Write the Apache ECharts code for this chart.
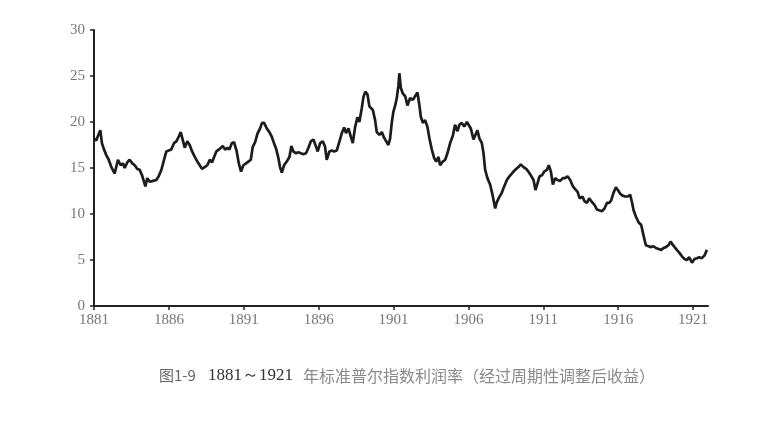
<!DOCTYPE html>
<html lang="zh">
<head>
    <meta charset="UTF-8">
    <title>1881～1921年标准普尔指数利润率</title>
    <style>
        * { margin: 0; padding: 0; box-sizing: border-box; }
        body { background: #fff; }
        #chart { width: 782px; height: 438px; }
    </style>
</head>
<body>
    <div id="chart"></div>

    <script src="https://cdn.jsdelivr.net/npm/echarts@6/dist/echarts.min.js"></script>
    <script>
        // years (decimal), with the matching ratio values
        const years = [
            1881.00, 1881.15, 1881.27, 1881.42, 1881.53, 1881.67, 1881.82, 1881.98, 1882.16, 1882.38,
            1882.60, 1882.78, 1882.94, 1883.05, 1883.22, 1883.38, 1883.56, 1883.72, 1883.89, 1884.05,
            1884.21, 1884.34, 1884.43, 1884.56, 1884.72, 1884.94, 1885.16, 1885.32, 1885.50, 1885.68,
            1885.83, 1885.99, 1886.16, 1886.34, 1886.50, 1886.66, 1886.79, 1886.95, 1887.06, 1887.23,
            1887.39, 1887.55, 1887.73, 1887.90, 1888.06, 1888.21, 1888.39, 1888.57, 1888.73, 1888.88,
            1889.02, 1889.17, 1889.24, 1889.42, 1889.60, 1889.75, 1889.90, 1890.04, 1890.20, 1890.35,
            1890.53, 1890.67, 1890.82, 1890.97, 1891.15, 1891.31, 1891.47, 1891.60, 1891.76, 1891.91,
            1892.09, 1892.22, 1892.36, 1892.54, 1892.71, 1892.87, 1893.02, 1893.16, 1893.31, 1893.42,
            1893.54, 1893.69, 1893.87, 1894.05, 1894.18, 1894.31, 1894.49, 1894.65, 1894.81, 1894.98,
            1895.16, 1895.32, 1895.48, 1895.65, 1895.83, 1895.94, 1896.10, 1896.28, 1896.43, 1896.54,
            1896.72, 1896.88, 1897.03, 1897.21, 1897.39, 1897.55, 1897.70, 1897.83, 1897.99, 1898.15,
            1898.28, 1898.44, 1898.59, 1898.72, 1898.88, 1898.99, 1899.12, 1899.26, 1899.39, 1899.48,
            1899.62, 1899.77, 1899.88, 1900.06, 1900.22, 1900.37, 1900.51, 1900.66, 1900.77, 1900.89,
            1900.99, 1901.11, 1901.22, 1901.33, 1901.39, 1901.49, 1901.62, 1901.78, 1901.93, 1902.11,
            1902.29, 1902.44, 1902.60, 1902.73, 1902.82, 1902.96, 1903.11, 1903.26, 1903.40, 1903.56,
            1903.71, 1903.85, 1904.00, 1904.11, 1904.29, 1904.45, 1904.60, 1904.78, 1904.96, 1905.11,
            1905.27, 1905.40, 1905.56, 1905.72, 1905.90, 1906.00, 1906.16, 1906.34, 1906.47, 1906.60,
            1906.74, 1906.90, 1907.01, 1907.12, 1907.27, 1907.45, 1907.61, 1907.79, 1907.90, 1908.05,
            1908.23, 1908.39, 1908.57, 1908.74, 1908.90, 1909.06, 1909.19, 1909.34, 1909.50, 1909.68,
            1909.86, 1910.01, 1910.17, 1910.35, 1910.48, 1910.61, 1910.75, 1910.91, 1911.06, 1911.24,
            1911.37, 1911.51, 1911.64, 1911.80, 1911.95, 1912.13, 1912.31, 1912.46, 1912.62, 1912.80,
            1912.98, 1913.13, 1913.29, 1913.43, 1913.62, 1913.75, 1913.91, 1914.07, 1914.25, 1914.42,
            1914.58, 1914.73, 1914.91, 1915.09, 1915.25, 1915.40, 1915.54, 1915.69, 1915.85, 1915.98,
            1916.14, 1916.29, 1916.47, 1916.65, 1916.80, 1916.92, 1917.03, 1917.19, 1917.36, 1917.54,
            1917.69, 1917.85, 1918.03, 1918.21, 1918.36, 1918.52, 1918.70, 1918.88, 1919.03, 1919.19,
            1919.36, 1919.50, 1919.63, 1919.77, 1919.92, 1920.08, 1920.26, 1920.43, 1920.59, 1920.75,
            1920.93, 1921.10, 1921.26, 1921.41, 1921.59, 1921.77, 1921.93
        ];

        const ratios = [
            18.2, 18.0, 18.5, 19.1, 17.7, 17.0, 16.4, 15.9, 15.1, 14.4,
            15.9, 15.3, 15.5, 15.0, 15.6, 15.9, 15.5, 15.3, 14.9, 14.8,
            14.2, 13.5, 13.0, 13.9, 13.5, 13.6, 13.7, 14.1, 14.8, 15.9,
            16.8, 16.9, 17.0, 17.7, 17.9, 18.4, 18.9, 17.9, 17.2, 17.9,
            17.5, 16.8, 16.2, 15.7, 15.3, 14.9, 15.1, 15.3, 15.9, 15.6,
            16.2, 16.8, 16.9, 17.1, 17.4, 17.0, 17.2, 17.0, 17.7, 17.8,
            16.8, 15.5, 14.6, 15.3, 15.5, 15.7, 15.9, 17.3, 17.8, 18.7,
            19.3, 19.9, 19.9, 19.3, 18.9, 18.4, 17.7, 17.1, 16.1, 15.1,
            14.5, 15.3, 15.7, 16.2, 17.4, 16.8, 16.6, 16.7, 16.6, 16.5,
            16.6, 17.2, 17.9, 18.1, 17.3, 16.8, 17.7, 17.9, 17.3, 15.9,
            16.8, 16.9, 16.8, 16.9, 17.9, 18.8, 19.4, 18.8, 19.3, 18.4,
            17.7, 19.5, 20.5, 20.0, 21.5, 22.7, 23.3, 23.0, 21.7, 21.9,
            21.3, 20.2, 18.9, 18.6, 18.9, 18.3, 17.9, 17.5, 18.2, 20.0,
            21.1, 21.8, 22.6, 24.0, 25.3, 23.7, 23.1, 22.8, 21.8, 22.6,
            22.4, 22.8, 23.2, 21.8, 20.6, 19.9, 20.2, 19.5, 18.2, 17.0,
            16.1, 15.7, 16.2, 15.3, 15.7, 15.9, 16.6, 17.7, 18.5, 19.7,
            19.0, 19.7, 19.9, 19.5, 20.0, 20.1, 19.3, 18.1, 18.2, 19.1,
            18.2, 17.7, 16.6, 14.8, 13.9, 13.2, 12.1, 10.6, 11.3, 11.8,
            12.3, 13.0, 13.7, 14.1, 14.4, 14.7, 14.6, 15.1, 15.4, 15.1,
            14.9, 14.6, 14.2, 13.7, 12.6, 13.3, 14.1, 14.2, 14.6, 14.8,
            15.3, 14.6, 13.2, 13.9, 13.7, 13.6, 13.9, 13.9, 14.1, 13.7,
            13.0, 12.7, 12.4, 11.7, 11.9, 11.4, 11.2, 11.7, 11.3, 11.0,
            10.5, 10.4, 10.3, 10.6, 11.2, 11.2, 11.5, 12.3, 12.9, 12.6,
            12.2, 12.0, 11.9, 11.9, 12.1, 11.3, 10.4, 9.7, 9.1, 8.8,
            7.7, 6.6, 6.5, 6.4, 6.5, 6.3, 6.2, 6.1, 6.3, 6.4,
            6.6, 7.0, 6.7, 6.4, 6.1, 5.8, 5.4, 5.1, 5.0, 5.3,
            4.7, 5.1, 5.2, 5.3, 5.2, 5.5, 6.1
        ];

        const xTickYears = [1881, 1886, 1891, 1896, 1901, 1906, 1911, 1916, 1921];
        const yTicks = [0, 5, 10, 15, 20, 25, 30];

        const caption = '图1-9';
        const captionYears = '1881～1921';
        const captionText = '年标准普尔指数利润率（经过周期性调整后收益）';

        const chart = echarts.init(document.getElementById('chart'));

        const labelStyle = {
            color: '#777',
            fontFamily: '"Liberation Serif", "DejaVu Serif", serif',
            fontSize: 15
        };

        chart.setOption({
            animation: false,
            grid: { left: 94, right: 74, top: 30, bottom: 132 },
            xAxis: {
                type: 'value',
                min: 1881,
                max: 1922,
                splitLine: { show: false },
                axisLine: { show: true, lineStyle: { color: '#222', width: 2 } },
                axisTick: {
                    show: true,
                    length: 4,
                    customValues: xTickYears,
                    lineStyle: { color: '#222', width: 1.5 }
                },
                axisLabel: Object.assign({
                    margin: 7,
                    customValues: xTickYears,
                    formatter: v => String(v)
                }, labelStyle)
            },
            yAxis: {
                type: 'value',
                min: yTicks[0],
                max: yTicks[yTicks.length - 1],
                interval: 5,
                splitLine: { show: false },
                axisLine: { show: true, lineStyle: { color: '#222', width: 2 } },
                axisTick: { show: true, length: 4, lineStyle: { color: '#222', width: 1.5 } },
                axisLabel: Object.assign({ margin: 9 }, labelStyle)
            },
            series: [{
                type: 'line',
                data: years.map((y, i) => [y, ratios[i]]),
                showSymbol: false,
                lineStyle: { color: '#1c1c1c', width: 2.7 },
                z: 3
            }],
            graphic: [{
                type: 'text',
                left: 159,
                top: 367,
                style: {
                    text: '{a|' + caption + '}{b|' + captionYears + '}{c|' + captionText + '}',
                    rich: {
                        a: { fontFamily: '"Noto Sans CJK SC"', fontSize: 15, fill: '#666', width: 49 },
                        b: { fontFamily: '"Liberation Serif", serif', fontSize: 17, fill: '#333', padding: [0, 10, 0, 0] },
                        c: { fontFamily: '"Noto Sans CJK SC"', fontSize: 16, fill: '#8a8a8a' }
                    }
                }
            }]
        });
    </script>
</body>
</html>
